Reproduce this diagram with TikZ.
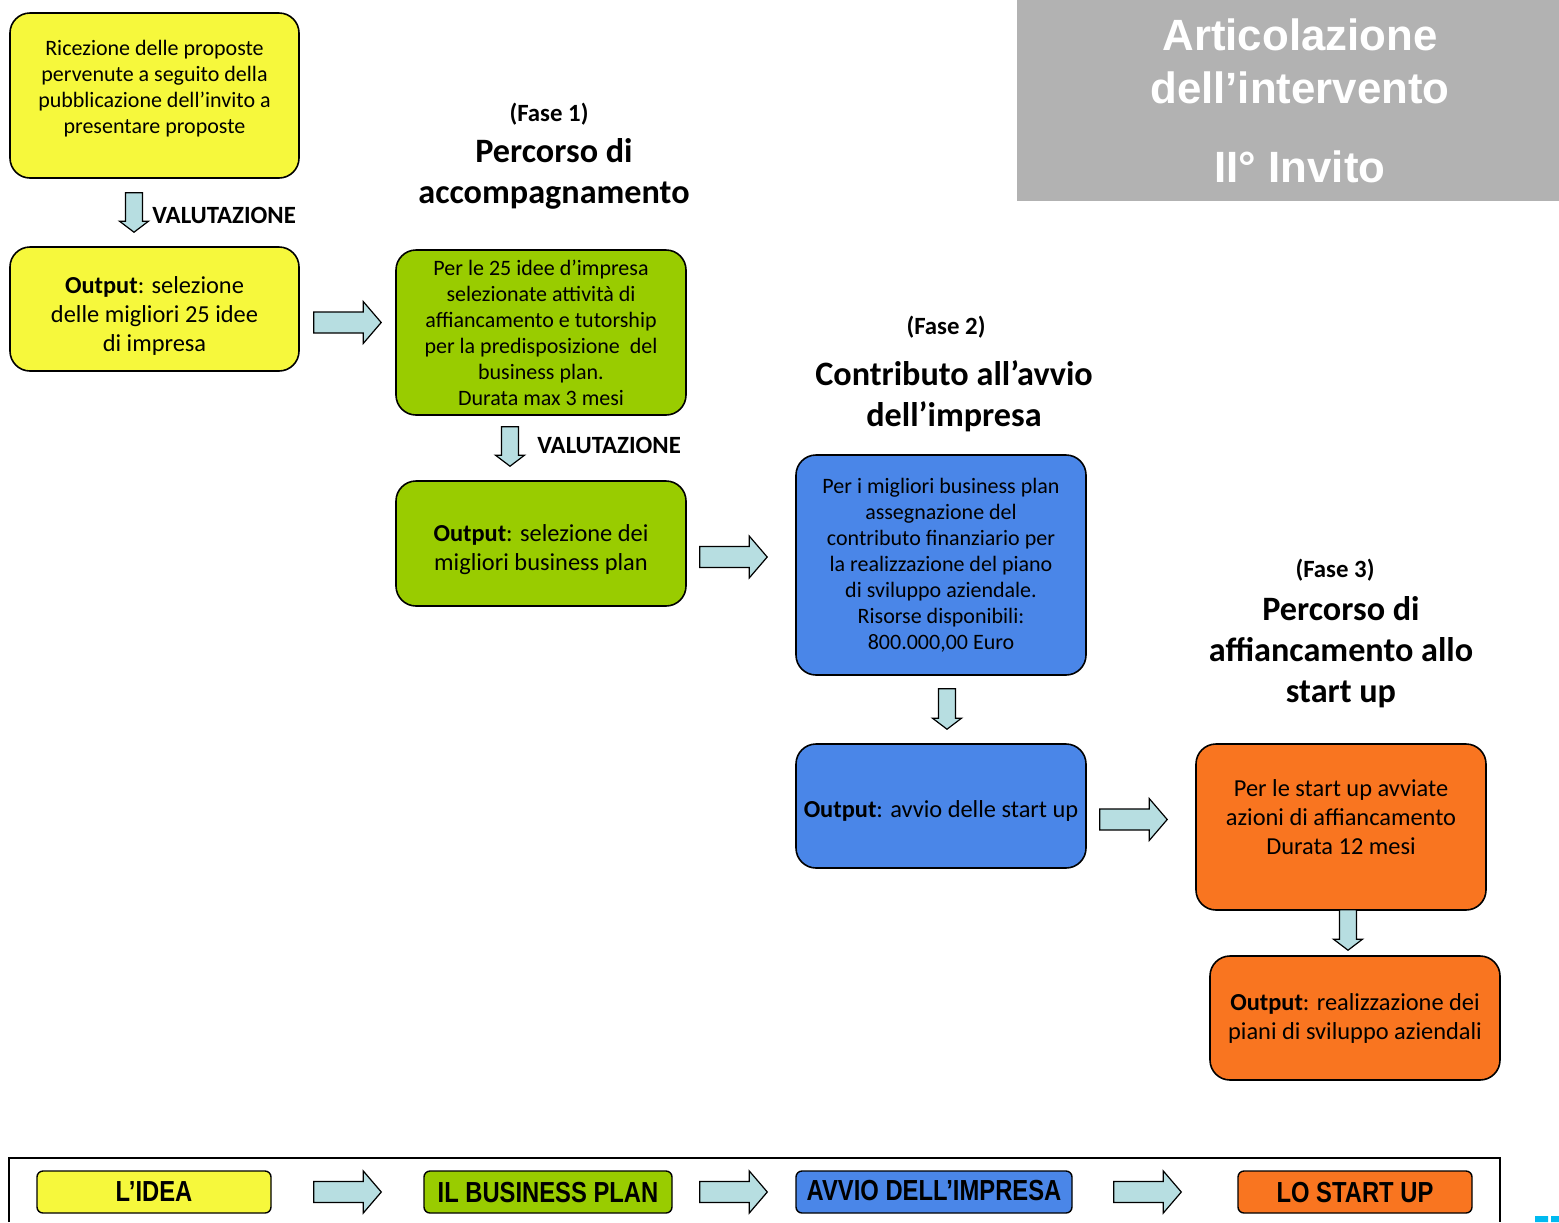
\documentclass[tikz,border=0pt]{standalone}
\usepackage{fontspec}
\setmainfont{Carlito}
\newfontfamily\headfont{Liberation Sans}
\newfontfamily\barfont{Liberation Sans}[FakeStretch=0.82]
\usepackage{tikz}
\usetikzlibrary{positioning, calc}
\definecolor{ideaYellow}{RGB}{246,248,60}
\definecolor{planGreen}{RGB}{153,204,0}
\definecolor{avvioBlue}{RGB}{74,134,232}
\definecolor{startOrange}{RGB}{249,117,32}
\definecolor{arrowCyan}{RGB}{183,222,225}
\definecolor{titleGray}{RGB}{178,178,178}
\definecolor{logoCyan}{RGB}{0,186,240}

% struts to push the text up or down in its box
\newcommand{\pushup}[1]{\rule[-#1]{0pt}{0pt}}
\newcommand{\pushdown}[1]{\rule{0pt}{#1}}

\tikzset{
  fasebox/.style={draw, line width=0.8pt, rounded corners=10pt, align=center, inner sep=2pt},
  descbox/.style={fasebox, font=\fontsize{11}{13}\selectfont},
  outbox/.style={fasebox, font=\fontsize{12.2}{14.5}\selectfont},
  barbox/.style={draw, line width=0.7pt, rounded corners=3pt, inner sep=0pt,
    minimum height=21pt, font=\barfont\bfseries\fontsize{14.5}{16}\selectfont},
  fasetag/.style={inner sep=0pt, font=\bfseries\fontsize{12.4}{14}\selectfont},
  fasetitle/.style={inner sep=0pt, align=center, font=\bfseries\fontsize{17.1}{20.5}\selectfont},
  valut/.style={inner sep=0pt, anchor=west, font=\bfseries\fontsize{12.4}{14}\selectfont},
  blockarrow/.style n args={3}{draw=black, fill=arrowCyan, line width=0.6pt,
    to path={let \p1=(\tikztostart), \p2=(\tikztotarget), \p3=($(\p2)!#3!(\p1)$) in
      ($(\p1)!#1!90:(\p2)$) -- ($(\p3)!#1!90:(\p2)$) -- ($(\p3)!#2!90:(\p2)$)
      -- (\p2) -- ($(\p3)!#2!-90:(\p2)$) -- ($(\p3)!#1!-90:(\p2)$)
      -- ($(\p1)!#1!-90:(\p2)$) -- cycle}},
  harrow/.style={blockarrow={5.25pt}{10.5pt}{9pt}},
  varrow/.style={blockarrow={4.25pt}{7.25pt}{5.5pt}}
}

\begin{document}
\begin{tikzpicture}[x=0.5pt, y=-0.5pt]
\useasboundingbox (0,0) rectangle (1559,1222);

% titolo
\node[fill=titleGray, minimum width=271pt, minimum height=100.5pt, inner sep=0pt] (tbox) at (1288,100.5) {};
\node[align=center, text=white, inner sep=0pt, font=\headfont\bfseries\fontsize{21.9}{26.5}\selectfont] (ttxt) at (1300,101)
  {Articolazione\\dell’intervento\\[13pt]II° Invito};

% l'idea
\node[descbox, fill=ideaYellow, minimum width=144.5pt, minimum height=82.5pt] (idea) at (154.5,95.5)
  {Ricezione delle proposte\\pervenute a seguito della\\pubblicazione dell’invito a\\presentare proposte\pushup{8.8pt}};
\node[outbox, fill=ideaYellow, minimum width=144.5pt, minimum height=62pt] (out1) at (154.5,309)
  {\pushdown{15.5pt}\textbf{Output}: selezione\\delle migliori 25 idee\\di impresa};
\node[valut] (val1) at (152,215) {VALUTAZIONE};

% fase 1
\node[fasetag] (fase1) at (549,114) {(Fase 1)};
\node[fasetitle] (tit1) at (554,173.5) {Percorso di\\accompagnamento};
\node[descbox, fill=planGreen, minimum width=145pt, minimum height=82.5pt] (bp) at (541,332.5)
  {Per le 25 idee d’impresa\\selezionate attività di\\affiancamento e tutorship\\per la predisposizione\ \ del\\business plan.\\Durata max 3 mesi};
\node[outbox, fill=planGreen, minimum width=145pt, minimum height=62.5pt] (out2) at (541,543.5)
  {\pushdown{14.5pt}\textbf{Output}: selezione dei\\migliori business plan};
\node[valut] (val2) at (537,445) {VALUTAZIONE};

% fase 2
\node[fasetag] (fase2) at (946,327) {(Fase 2)};
\node[fasetitle] (tit2) at (954,396.5) {Contributo all’avvio\\dell’impresa};
\node[descbox, fill=avvioBlue, minimum width=145pt, minimum height=110pt] (contr) at (941,565)
  {Per i migliori business plan\\assegnazione del\\contributo finanziario per\\la realizzazione del piano\\di sviluppo aziendale.\\Risorse disponibili:\\800.000,00 Euro};
\node[outbox, fill=avvioBlue, minimum width=145pt, minimum height=62pt] (out3) at (941,806)
  {\pushdown{13.5pt}\textbf{Output}: avvio delle start up};

% fase 3
\node[fasetag] (fase3) at (1335,570) {(Fase 3)};
\node[fasetitle] (tit3) at (1341,652) {Percorso di\\affiancamento allo\\start up};
\node[outbox, fill=startOrange, minimum width=145pt, minimum height=83pt] (startup) at (1341,827)
  {Per le start up avviate\\azioni di affiancamento\\Durata 12 mesi\pushup{10pt}};
\node[outbox, fill=startOrange, minimum width=145pt, minimum height=62pt] (out4) at (1355,1018)
  {\textbf{Output}: realizzazione dei\\piani di sviluppo aziendali};

% frecce
\draw[varrow] ($(idea.south)+(-20.5,14)$) to ($(out1.north)+(-20.5,-14)$);
\draw[harrow] ($(out1.east)+(14,13.5)$) to ($(bp.west)+(-14,-10)$);
\draw[varrow] ($(bp.south)+(-31,11)$) to ($(out2.north)+(-31,-14)$);
\draw[harrow] ($(out2.east)+(13,13.5)$) to ($(contr.west)+(-28,-8)$);
\draw[varrow] ($(contr.south)+(6,13)$) to ($(out3.north)+(6,-14)$);
\draw[harrow] ($(out3.east)+(13,13.5)$) to ($(startup.west)+(-28,-7.5)$);
\draw[varrow] ($(startup.south)+(7,-1)$) to ($(out4.north)+(-7,-5)$);

% barra in basso
\draw[line width=1pt] (9,1222) |- (1500,1158) -- (1500,1222);
\node[barbox, fill=ideaYellow, minimum width=117pt] (bidea) at (154,1192) {L’IDEA};
\node[barbox, fill=planGreen, minimum width=124pt] (bplan) at (548,1192) {IL BUSINESS PLAN};
\node[barbox, fill=avvioBlue, minimum width=138pt] (bavvio) at (934,1192) {\raisebox{2pt}{AVVIO DELL’IMPRESA}};
\node[barbox, fill=startOrange, minimum width=117pt] (bstart) at (1355,1192) {LO START UP};
\draw[harrow] ($(bidea.east)+(42,0)$) to ($(bplan.west)+(-42,0)$);
\draw[harrow] ($(bplan.east)+(27,0)$) to ($(bavvio.west)+(-28,0)$);
\draw[harrow] ($(bavvio.east)+(41,0)$) to ($(bstart.west)+(-56,0)$);

\fill[logoCyan] (1535,1216) rectangle (1548,1222) (1551,1216) rectangle (1559,1222);
\end{tikzpicture}
\end{document}
